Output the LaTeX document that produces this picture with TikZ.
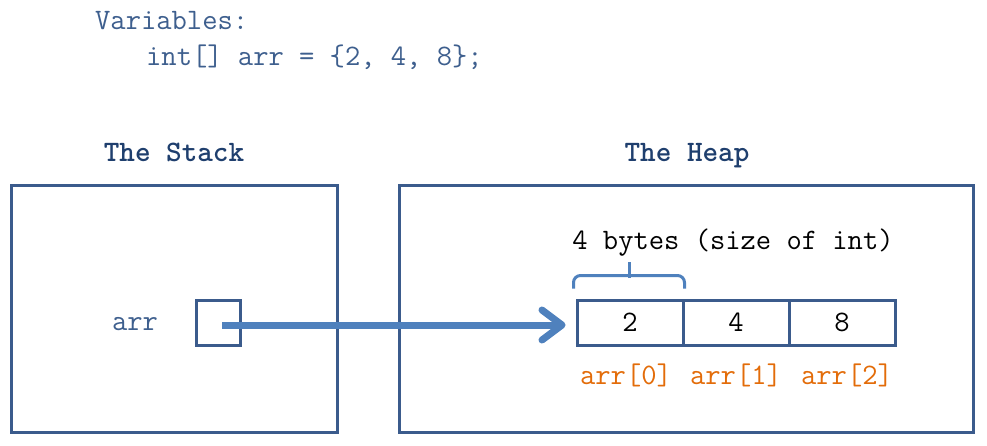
\documentclass[tikz,border=0pt]{standalone}
\usepackage{fontspec}
\usetikzlibrary{arrows.meta,calc}
\definecolor{boxc}{HTML}{3B5B8C}
\definecolor{txtc}{HTML}{3E5F8E}
\definecolor{titc}{HTML}{1F3F6E}
\definecolor{arrc}{HTML}{4F81BD}
\definecolor{orng}{HTML}{E36C09}
\tikzset{
  mono/.style={font=\ttfamily\fontsize{29.7}{34}\selectfont, inner sep=0pt},
  region/.style={draw=boxc, line width=3pt, inner sep=0pt},
  cell/.style={draw=boxc, line width=3pt, minimum width=106pt, minimum height=45pt, inner sep=0pt, font=\ttfamily\fontsize{29.7}{34}\selectfont},
  ptrarrow/.style={draw=arrc, line width=7pt, -{Straight Barb[length=20pt,width=30pt,round]}},
}
\begin{document}
\begin{tikzpicture}[x=1pt,y=-1pt]
\useasboundingbox (0,0) rectangle (987,445);
\fill[white] (0,0) rectangle (987,445);
% code text
\node[mono, text=txtc, anchor=base west] (vars) at (95,29) {Variables:};
\node[mono, text=txtc, anchor=base west] (decl) at (146,65) {int[] arr = \{2, 4, 8\};};
% regions
\node[region, minimum width=326pt, minimum height=247pt] (stack) at (174,308.5) {};
\node[region, minimum width=574pt, minimum height=247pt] (heap) at (686,308.5) {};
\node[mono, text=titc, font=\ttfamily\bfseries\fontsize{29.7}{34}\selectfont, anchor=base] (stitle) at (174,161) {The Stack};
\node[mono, text=titc, font=\ttfamily\bfseries\fontsize{29.7}{34}\selectfont, anchor=base] (htitle) at (687,161) {The Heap};
% stack variable
\node[mono, text=txtc, anchor=base] (arrlbl) at (135,330) {arr};
\node[draw=boxc, line width=3pt, minimum width=44pt, minimum height=45pt, inner sep=0pt] (ptr) at (218,322.5) {};
% array cells
\node[cell] (c0) at (630,322.5) {2};
\node[cell] (c1) at (736,322.5) {4};
\node[cell] (c2) at (842,322.5) {8};
% index labels
\node[mono, text=orng, anchor=base] (i0) at (626,384) {arr[0]};
\node[mono, text=orng, anchor=base] (i1) at (736,384) {arr[1]};
\node[mono, text=orng, anchor=base] (i2) at (847,384) {arr[2]};
% brace
\coordinate (bl) at ([xshift=-2pt,yshift=10pt]c0.north west);
\coordinate (br) at ([yshift=10pt]c0.north east);
\draw[draw=arrc, line width=3pt, rounded corners=7pt] (bl) -- ++(0,-13) -- ($(br)+(0,-13)$) -- (br);
\node[mono, anchor=base] (bytes) at (733,249) {4 bytes (size of int)};
\draw[draw=arrc, line width=3pt] (629,278) -- (629,262);
% pointer arrow
\coordinate (astart) at (222,325);
\coordinate (aend) at ([yshift=-2.5pt]c0.west);
\draw[ptrarrow, shorten >=10pt] (astart) -- (aend);
\end{tikzpicture}
\end{document}
